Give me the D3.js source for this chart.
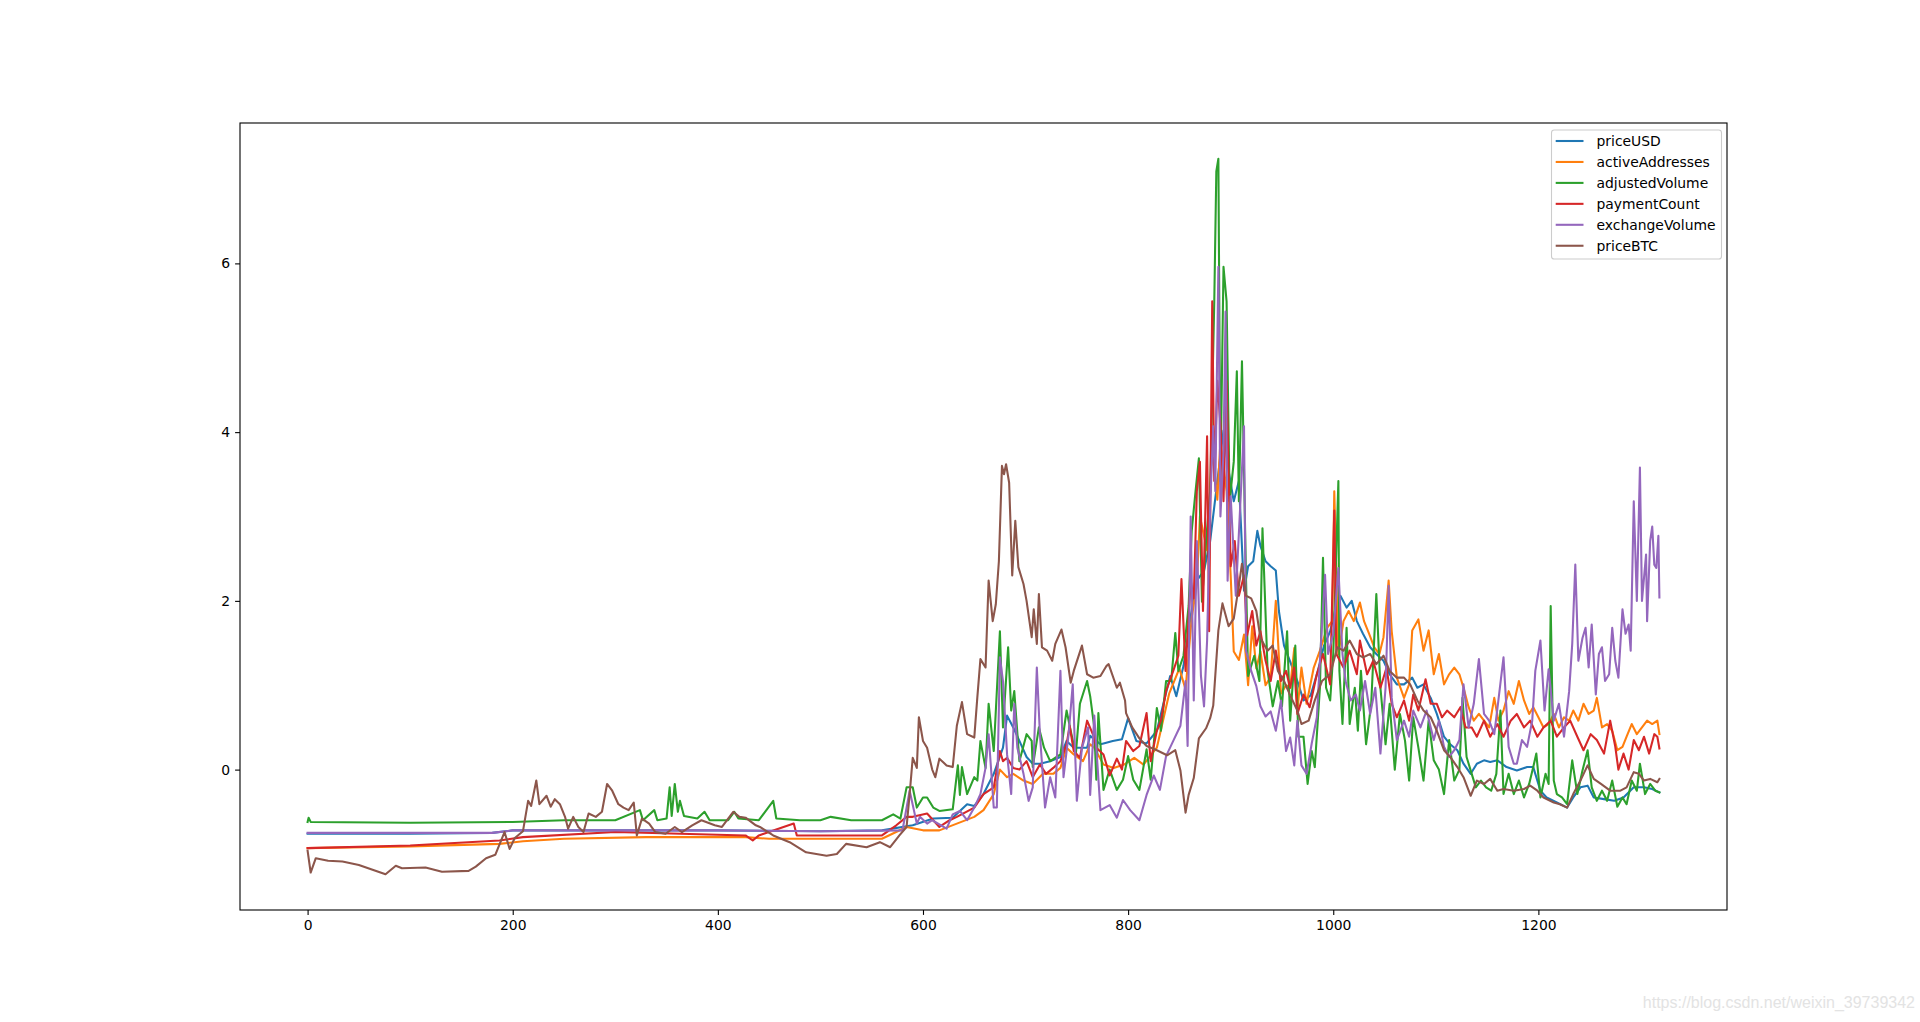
<!DOCTYPE html>
<html>
<head>
<meta charset="utf-8">
<script src="https://cdn.jsdelivr.net/npm/d3@7"></script>
<style>
  html, body { margin: 0; padding: 0; background: #fff; }
  svg { display: block; }
</style>
</head>
<body>
<script>
// ---------------- DATA ----------------
const seriesNames = ["priceUSD", "activeAddresses", "adjustedVolume", "paymentCount", "exchangeVolume", "priceBTC"];
const xTicks = [0, 200, 400, 600, 800, 1000, 1200];
const yTicks = [0, 2, 4, 6];

const priceUSD = [[0,-0.76],[100,-0.76],[180,-0.75],[200,-0.72],[300,-0.72],[400,-0.72],[500,-0.73],[560,-0.72],[590,-0.66],[610,-0.58],[629,-0.57],[643,-0.41],[650,-0.43],[659,-0.29],[669,-0.05],[678,0.26],[682,0.64],[688,0.50],[694,0.34],[701,0.15],[707,0.07],[714,0.07],[724,0.10],[734,0.15],[740,0.34],[747,0.26],[760,0.26],[763,0.40],[773,0.30],[776,0.31],[785,0.34],[794,0.36],[800,0.61],[808,0.34],[818,0.31],[828,0.46],[841,1.11],[847,0.87],[854,1.23],[861,1.82],[867,2.24],[874,2.36],[880,2.71],[887,3.42],[893,4.02],[898,3.54],[903,3.18],[908,3.42],[913,2.12],[917,2.41],[922,2.47],[926,2.83],[929,2.65],[934,2.47],[939,2.41],[944,2.36],[947,1.88],[952,1.47],[958,1.28],[965,1.05],[971,0.82],[978,0.88],[985,1.17],[991,1.47],[997,1.64],[1004,2.0],[1007,2.06],[1013,1.92],[1018,2.0],[1023,1.76],[1029,1.61],[1036,1.45],[1042,1.37],[1049,1.29],[1055,1.13],[1062,1.01],[1069,1.01],[1077,1.09],[1082,0.97],[1088,1.01],[1095,0.85],[1101,0.66],[1108,0.39],[1114,0.30],[1121,0.23],[1127,0.07],[1134,-0.05],[1140,0.07],[1147,0.11],[1153,0.09],[1160,0.11],[1169,0.03],[1179,-0.01],[1189,0.03],[1195,0.03],[1202,-0.25],[1208,-0.33],[1218,-0.39],[1228,-0.45],[1234,-0.33],[1241,-0.21],[1248,-0.19],[1254,-0.33],[1264,-0.35],[1274,-0.37],[1283,-0.33],[1293,-0.21],[1303,-0.21],[1311,-0.23],[1318,-0.27]];

const activeAddresses = [[0,-0.93],[100,-0.91],[187,-0.88],[210,-0.85],[250,-0.82],[330,-0.80],[427,-0.80],[450,-0.82],[520,-0.82],[560,-0.82],[584,-0.68],[600,-0.72],[616,-0.72],[633,-0.64],[650,-0.56],[659,-0.48],[669,-0.29],[675,0.0],[682,-0.09],[688,-0.05],[698,-0.13],[707,-0.17],[717,-0.05],[727,-0.05],[734,0.02],[740,0.26],[747,0.18],[756,0.10],[763,0.30],[767,0.26],[776,0.06],[786,0.02],[796,0.06],[806,0.14],[815,0.06],[828,0.26],[840,0.9],[850,1.2],[856,0.95],[862,1.8],[867,2.2],[870,3.0],[877,2.6],[882,3.8],[887,3.2],[890,3.9],[896,3.3],[900,2.3],[903,1.40],[908,1.3],[913,1.6],[917,1.0],[921,1.7],[925,1.2],[929,1.4],[934,1.0],[939,1.1],[944,2.0],[949,0.9],[954,1.0],[958,0.97],[962,1.44],[965,0.69],[969,1.21],[974,0.78],[981,1.21],[987,1.41],[994,1.68],[999,1.76],[1001,3.30],[1005,1.37],[1010,1.76],[1015,1.88],[1020,1.76],[1026,1.98],[1030,1.76],[1035,1.61],[1040,1.45],[1045,1.37],[1049,1.57],[1054,2.24],[1057,1.64],[1062,1.09],[1069,0.85],[1074,1.01],[1077,1.65],[1083,1.78],[1088,1.41],[1093,1.65],[1098,1.13],[1103,1.37],[1108,1.01],[1113,1.13],[1118,1.21],[1123,1.13],[1127,0.97],[1132,0.74],[1137,0.58],[1142,0.66],[1147,0.58],[1152,0.50],[1157,0.85],[1161,0.58],[1166,0.70],[1171,0.93],[1176,0.78],[1181,1.05],[1186,0.82],[1191,0.66],[1195,0.74],[1200,0.62],[1205,0.50],[1210,0.54],[1215,0.66],[1220,0.50],[1225,0.62],[1230,0.58],[1234,0.70],[1239,0.58],[1244,0.78],[1249,0.66],[1254,0.70],[1257,0.85],[1262,0.50],[1267,0.54],[1272,0.46],[1277,0.23],[1282,0.27],[1286,0.39],[1291,0.54],[1296,0.42],[1301,0.50],[1306,0.58],[1311,0.54],[1316,0.58],[1318,0.42]];

const adjustedVolume = [[0,-0.62],[1,-0.57],[3,-0.62],[100,-0.63],[200,-0.62],[250,-0.60],[300,-0.60],[324,-0.48],[327,-0.60],[338,-0.48],[341,-0.60],[350,-0.58],[353,-0.21],[355,-0.55],[358,-0.17],[361,-0.50],[363,-0.37],[367,-0.55],[380,-0.58],[387,-0.50],[392,-0.60],[410,-0.60],[416,-0.50],[420,-0.58],[440,-0.60],[454,-0.37],[457,-0.58],[480,-0.60],[500,-0.60],[510,-0.56],[530,-0.60],[560,-0.60],[571,-0.53],[578,-0.58],[584,-0.21],[590,-0.21],[594,-0.45],[600,-0.33],[604,-0.33],[610,-0.45],[616,-0.49],[629,-0.47],[634,0.05],[636,-0.30],[638,0.03],[643,-0.29],[650,-0.09],[653,-0.13],[656,0.34],[661,0.02],[664,0.78],[669,0.22],[675,1.64],[678,0.50],[683,1.45],[686,0.70],[689,0.93],[694,0.10],[701,0.42],[706,0.34],[707,0.03],[713,0.50],[718,0.26],[724,0.10],[734,0.18],[740,0.70],[744,0.46],[749,0.18],[753,0.78],[760,1.05],[763,0.87],[767,0.50],[769,-0.12],[771,0.67],[776,-0.24],[782,0.0],[789,-0.24],[795,-0.12],[800,0.16],[805,-0.12],[811,-0.24],[818,0.24],[822,-0.12],[828,0.73],[832,0.46],[837,1.05],[842,1.05],[846,1.62],[849,1.17],[854,1.35],[859,1.94],[862,2.83],[866,3.33],[869,3.69],[872,1.99],[876,2.71],[880,3.30],[884,5.55],[886,7.09],[888,7.24],[890,3.42],[893,5.96],[896,5.55],[899,3.18],[903,3.65],[906,4.72],[908,3.18],[911,4.84],[915,2.24],[917,1.11],[923,1.35],[928,1.05],[931,2.86],[936,1.17],[941,0.75],[946,1.05],[950,0.75],[955,1.64],[958,0.58],[963,1.47],[966,0.39],[971,0.39],[975,-0.17],[979,0.22],[982,0.03],[987,0.97],[990,2.51],[993,0.97],[997,0.82],[1000,1.37],[1005,3.42],[1006,1.17],[1009,0.54],[1013,1.68],[1016,0.54],[1021,0.97],[1024,0.46],[1027,1.17],[1032,0.30],[1037,0.78],[1042,2.08],[1046,0.97],[1051,0.30],[1055,0.78],[1060,0.0],[1065,0.66],[1070,0.34],[1074,-0.13],[1078,0.62],[1083,0.26],[1088,-0.13],[1093,0.58],[1098,0.11],[1103,0.0],[1108,-0.29],[1113,0.35],[1118,-0.13],[1123,0.0],[1126,0.85],[1130,0.15],[1135,-0.05],[1139,-0.21],[1144,-0.13],[1149,-0.21],[1154,-0.25],[1159,-0.05],[1163,0.70],[1166,-0.29],[1171,-0.05],[1176,-0.29],[1181,-0.13],[1186,-0.33],[1191,-0.17],[1195,0.03],[1198,0.19],[1202,-0.33],[1207,-0.05],[1210,-0.17],[1212,1.94],[1215,-0.13],[1218,-0.29],[1223,-0.33],[1228,-0.41],[1233,0.11],[1238,-0.29],[1243,-0.01],[1248,0.23],[1252,-0.21],[1257,-0.37],[1262,-0.25],[1267,-0.37],[1272,-0.13],[1277,-0.44],[1282,-0.33],[1286,-0.41],[1291,-0.13],[1296,-0.25],[1299,0.07],[1304,-0.29],[1309,-0.17],[1314,-0.25],[1318,-0.27]];

const paymentCount = [[0,-0.93],[100,-0.90],[187,-0.84],[210,-0.80],[300,-0.74],[427,-0.78],[434,-0.84],[440,-0.78],[474,-0.64],[477,-0.78],[520,-0.78],[560,-0.78],[574,-0.66],[584,-0.56],[590,-0.56],[604,-0.52],[616,-0.68],[626,-0.60],[633,-0.56],[650,-0.45],[659,-0.29],[669,-0.21],[675,0.22],[678,0.10],[682,0.14],[688,0.02],[694,0.0],[701,0.10],[707,-0.09],[714,0.06],[720,-0.05],[727,0.02],[734,0.10],[740,0.30],[743,0.52],[747,0.22],[753,0.14],[760,0.58],[767,0.38],[769,0.26],[776,0.18],[782,-0.07],[789,0.13],[794,0.0],[798,0.34],[805,0.22],[811,0.28],[818,0.67],[822,0.10],[828,0.46],[832,0.58],[837,0.93],[844,1.17],[849,1.35],[852,2.26],[856,1.17],[861,2.24],[864,2.03],[867,3.30],[870,3.65],[873,1.88],[877,3.95],[879,1.64],[882,5.55],[884,3.42],[887,4.61],[890,4.10],[893,3.18],[896,4.61],[900,2.41],[904,2.71],[908,2.06],[913,2.30],[916,1.59],[921,1.88],[925,1.47],[929,1.64],[934,1.29],[939,1.05],[944,1.41],[949,1.05],[954,1.17],[958,0.97],[962,1.21],[965,0.66],[971,0.89],[977,0.74],[984,1.13],[990,1.37],[997,1.01],[1001,3.07],[1003,1.37],[1010,1.21],[1016,1.41],[1023,1.13],[1026,1.53],[1033,1.13],[1039,1.29],[1046,0.97],[1052,1.21],[1057,0.78],[1062,0.62],[1069,0.82],[1074,0.58],[1078,0.89],[1083,0.70],[1090,1.07],[1095,0.78],[1101,0.78],[1106,0.62],[1111,0.70],[1118,0.62],[1124,0.74],[1129,0.50],[1135,0.50],[1140,0.39],[1147,0.58],[1153,0.39],[1160,0.54],[1166,0.39],[1173,0.58],[1179,0.66],[1186,0.50],[1192,0.58],[1199,0.39],[1205,0.50],[1212,0.58],[1218,0.39],[1225,0.50],[1231,0.58],[1238,0.39],[1244,0.23],[1251,0.42],[1257,0.35],[1264,0.19],[1270,0.58],[1275,0.27],[1278,0.0],[1283,0.19],[1288,0.0],[1293,0.35],[1298,0.23],[1303,0.39],[1308,0.19],[1313,0.42],[1316,0.39],[1318,0.25]];

const exchangeVolume = [[0,-0.75],[100,-0.75],[180,-0.75],[200,-0.72],[300,-0.72],[400,-0.72],[500,-0.73],[580,-0.72],[587,-0.25],[594,-0.64],[597,-0.56],[604,-0.64],[609,-0.60],[623,-0.70],[629,-0.53],[636,-0.49],[643,-0.60],[650,-0.45],[656,-0.29],[661,0.02],[664,0.42],[669,-0.45],[672,-0.45],[675,1.33],[678,1.05],[682,0.18],[686,-0.29],[689,0.78],[692,0.26],[698,-0.05],[703,-0.37],[707,-0.21],[711,1.21],[714,0.42],[719,-0.45],[724,-0.09],[729,-0.33],[734,1.17],[737,-0.09],[742,0.42],[746,1.01],[750,-0.37],[755,0.26],[761,0.50],[763,-0.30],[767,0.64],[773,-0.48],[782,-0.42],[789,-0.57],[795,-0.36],[802,-0.48],[811,-0.60],[818,-0.30],[825,-0.07],[831,-0.24],[837,0.16],[844,0.34],[851,0.52],[856,1.05],[858,0.28],[861,3.00],[864,0.82],[867,2.71],[871,1.11],[874,0.75],[877,1.53],[880,3.12],[883,4.07],[885,3.30],[888,5.96],[890,3.00],[893,3.77],[895,5.43],[897,2.24],[900,3.24],[905,2.06],[910,3.30],[913,4.07],[915,1.41],[920,1.17],[925,0.99],[929,0.75],[934,0.63],[939,0.69],[944,0.46],[949,0.82],[954,0.22],[958,0.38],[962,0.05],[965,0.58],[969,0.05],[974,-0.05],[979,0.31],[984,0.62],[987,1.29],[992,2.31],[995,1.37],[1000,1.61],[1005,2.39],[1009,1.37],[1012,1.05],[1017,0.82],[1022,0.89],[1026,0.70],[1031,1.05],[1036,0.66],[1041,0.97],[1046,0.19],[1051,0.97],[1054,2.18],[1057,0.85],[1062,0.35],[1069,0.58],[1074,0.39],[1078,0.70],[1085,0.50],[1091,0.70],[1098,0.35],[1103,0.58],[1108,0.27],[1113,0.15],[1118,0.23],[1123,0.35],[1127,1.01],[1132,0.50],[1137,0.78],[1142,1.31],[1147,0.66],[1152,0.58],[1157,0.42],[1161,0.82],[1166,1.33],[1171,0.27],[1176,0.07],[1179,0.07],[1184,0.35],[1189,0.27],[1194,0.58],[1197,1.17],[1202,1.53],[1206,0.70],[1210,1.19],[1215,0.58],[1220,0.78],[1225,0.39],[1230,0.93],[1233,1.49],[1236,2.43],[1239,1.29],[1243,1.56],[1246,1.68],[1249,1.21],[1252,1.72],[1256,0.89],[1259,1.37],[1262,1.45],[1265,1.05],[1269,1.13],[1272,1.68],[1275,1.29],[1278,1.09],[1282,1.90],[1285,1.61],[1288,1.72],[1290,1.41],[1293,3.18],[1296,2.00],[1299,3.58],[1301,2.00],[1305,2.55],[1306,1.76],[1309,2.71],[1311,2.88],[1313,2.43],[1315,2.39],[1317,2.77],[1318,2.04]];

const priceBTC = [[0,-0.96],[3,-1.22],[8,-1.05],[20,-1.08],[34,-1.09],[50,-1.13],[76,-1.24],[86,-1.14],[92,-1.17],[115,-1.16],[131,-1.21],[157,-1.20],[164,-1.15],[174,-1.05],[183,-1.01],[192,-0.74],[197,-0.94],[202,-0.81],[210,-0.73],[215,-0.37],[218,-0.43],[223,-0.13],[226,-0.41],[233,-0.31],[237,-0.44],[241,-0.35],[246,-0.41],[251,-0.56],[254,-0.70],[259,-0.56],[264,-0.68],[269,-0.74],[274,-0.52],[281,-0.56],[287,-0.50],[292,-0.17],[297,-0.25],[303,-0.41],[308,-0.45],[313,-0.48],[318,-0.39],[321,-0.78],[326,-0.58],[333,-0.64],[339,-0.74],[349,-0.76],[358,-0.68],[365,-0.74],[375,-0.66],[384,-0.60],[397,-0.66],[404,-0.68],[415,-0.50],[421,-0.56],[427,-0.57],[437,-0.66],[441,-0.68],[454,-0.78],[470,-0.86],[486,-0.98],[506,-1.02],[516,-1.00],[525,-0.88],[545,-0.92],[558,-0.86],[568,-0.92],[577,-0.78],[584,-0.68],[587,-0.29],[590,0.14],[594,0.02],[596,0.62],[600,0.34],[604,0.26],[609,0.0],[612,-0.09],[616,0.13],[623,0.05],[629,0.03],[633,0.52],[638,0.80],[643,0.42],[650,0.38],[653,0.86],[656,1.31],[661,1.21],[664,2.24],[668,1.76],[671,1.96],[674,2.47],[677,3.60],[679,3.50],[681,3.62],[684,3.40],[687,2.30],[690,2.95],[693,2.40],[698,2.20],[701,2.00],[706,1.57],[708,1.90],[711,1.49],[713,2.08],[716,1.45],[721,1.41],[726,1.29],[729,1.49],[735,1.66],[739,1.45],[744,1.03],[747,1.17],[755,1.47],[760,1.13],[766,1.09],[773,1.11],[779,1.23],[781,1.25],[789,0.97],[792,1.03],[797,0.82],[798,0.67],[804,0.50],[811,0.37],[818,0.28],[828,0.23],[838,0.17],[846,0.23],[851,-0.01],[856,-0.51],[859,-0.30],[864,-0.10],[869,0.37],[876,0.49],[880,0.61],[883,0.76],[888,1.65],[892,1.97],[898,1.70],[903,1.79],[908,2.18],[911,2.44],[915,2.06],[920,2.03],[925,1.88],[929,1.56],[936,1.41],[941,1.47],[946,1.17],[952,1.05],[958,0.88],[965,0.70],[969,0.54],[976,0.58],[982,0.82],[989,1.05],[997,1.13],[1004,1.45],[1010,1.41],[1016,1.53],[1023,1.37],[1029,1.33],[1036,1.37],[1042,1.25],[1049,1.35],[1055,1.17],[1062,1.09],[1069,1.09],[1075,1.01],[1082,0.82],[1088,0.70],[1095,0.62],[1101,0.46],[1108,0.23],[1114,0.15],[1121,0.03],[1127,-0.09],[1134,-0.31],[1140,-0.13],[1147,-0.17],[1153,-0.11],[1160,-0.25],[1166,-0.23],[1176,-0.25],[1186,-0.23],[1192,-0.19],[1199,-0.25],[1205,-0.33],[1215,-0.39],[1221,-0.41],[1228,-0.45],[1234,-0.29],[1241,-0.13],[1248,0.05],[1254,-0.11],[1261,-0.17],[1270,-0.25],[1280,-0.25],[1286,-0.21],[1293,-0.03],[1298,-0.05],[1303,-0.13],[1309,-0.11],[1316,-0.15],[1318,-0.11]];

const seriesValues = [priceUSD, activeAddresses, adjustedVolume, paymentCount, exchangeVolume, priceBTC];
const seriesColors = ["#1f77b4", "#ff7f0e", "#2ca02c", "#d62728", "#9467bd", "#8c564b"];
const watermarkText = "https://blog.csdn.net/weixin_39739342";

// ---------------- LAYOUT ----------------
const W = 1920, H = 1022;
const plot = { left: 240, right: 1727, top: 123, bottom: 910 };
const FONT = "'DejaVu Sans', sans-serif";
const FS = 13.9;

const svg = d3.select("body").append("svg")
  .attr("width", W).attr("height", H)
  .attr("viewBox", `0 0 ${W} ${H}`);
svg.append("rect").attr("width", W).attr("height", H).attr("fill", "#fff");

// matplotlib-like autoscale with 5% margins
const allPts = seriesValues.flat();
const xExt = d3.extent(allPts, d => d[0]);
const yExt = d3.extent(allPts, d => d[1]);
const xm = (xExt[1] - xExt[0]) * 0.05, ym = (yExt[1] - yExt[0]) * 0.05;

const x = d3.scaleLinear().domain([xExt[0] - xm, xExt[1] + xm]).range([plot.left, plot.right]);
const y = d3.scaleLinear().domain([yExt[0] - ym, yExt[1] + ym]).range([plot.bottom, plot.top]);

// clip
svg.append("clipPath").attr("id", "clip")
  .append("rect").attr("x", plot.left).attr("y", plot.top)
  .attr("width", plot.right - plot.left).attr("height", plot.bottom - plot.top);

const line = d3.line().x(d => x(d[0])).y(d => y(d[1]));

const gLines = svg.append("g").attr("clip-path", "url(#clip)");
seriesValues.forEach((s, k) => {
  gLines.append("path")
    .attr("d", line(s))
    .attr("fill", "none")
    .attr("stroke", seriesColors[k])
    .attr("stroke-width", 2.08)
    .attr("stroke-linejoin", "round")
    .attr("stroke-linecap", "square");
});

// axes
const tickLen = 4.9, tickPad = 4.9;
const xAxis = svg.append("g").attr("transform", `translate(0,${plot.bottom})`)
  .call(d3.axisBottom(x).tickValues(xTicks).tickFormat(d3.format("d"))
    .tickSizeInner(tickLen).tickSizeOuter(0).tickPadding(tickPad));
const yAxis = svg.append("g").attr("transform", `translate(${plot.left},0)`)
  .call(d3.axisLeft(y).tickValues(yTicks).tickFormat(d3.format("d"))
    .tickSizeInner(tickLen).tickSizeOuter(0).tickPadding(tickPad));
[xAxis, yAxis].forEach(g => {
  g.select(".domain").remove();
  g.selectAll(".tick line").attr("stroke", "#000").attr("stroke-width", 1.1);
  g.selectAll(".tick text").attr("fill", "#000")
    .style("font-family", FONT).style("font-size", FS + "px");
});

// frame
svg.append("rect")
  .attr("x", plot.left).attr("y", plot.top)
  .attr("width", plot.right - plot.left).attr("height", plot.bottom - plot.top)
  .attr("fill", "none").attr("stroke", "#000").attr("stroke-width", 1.1);

// legend
const leg = { x: 1551.5, y: 130, w: 170, h: 129 };
const gLeg = svg.append("g");
gLeg.append("rect")
  .attr("x", leg.x).attr("y", leg.y).attr("width", leg.w).attr("height", leg.h)
  .attr("rx", 2.8).attr("ry", 2.8)
  .attr("fill", "#fff").attr("fill-opacity", 0.8)
  .attr("stroke", "#cccccc").attr("stroke-width", 1.1);
const rowStart = 141, rowStep = 20.95;
seriesNames.forEach((name, k) => {
  const cy = rowStart + k * rowStep;
  gLeg.append("line")
    .attr("x1", 1555.7).attr("x2", 1583.5).attr("y1", cy).attr("y2", cy)
    .attr("stroke", seriesColors[k]).attr("stroke-width", 2.08);
  gLeg.append("text")
    .attr("x", 1596.5).attr("y", cy).attr("dy", "0.36em")
    .style("font-family", FONT).style("font-size", FS + "px")
    .attr("fill", "#000").text(name);
});

// watermark
svg.append("text")
  .attr("x", 1915).attr("y", 1008)
  .attr("text-anchor", "end")
  .style("font-family", "'Liberation Sans', Arial, sans-serif")
  .style("font-size", "16px")
  .attr("fill", "#e3e3e3")
  .text(watermarkText);
</script>
</body>
</html>
